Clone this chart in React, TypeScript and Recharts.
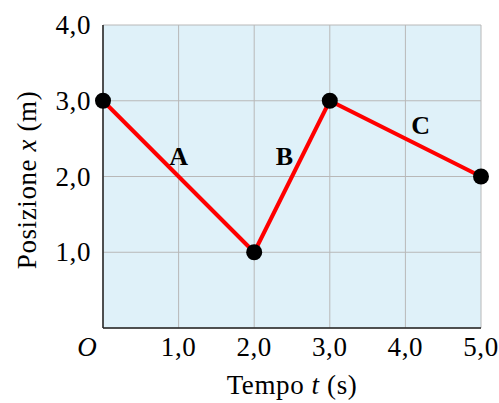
import { LineChart, Line, XAxis, YAxis, CartesianGrid, ReferenceDot, Label } from "recharts";

const times = [0, 2, 3, 5];
const positions = [3, 1, 3, 2];
const xTicks = [0, 1, 2, 3, 4, 5];
const yTicks = [0, 1, 2, 3, 4];
const segmentNames = ["A", "B", "C"];
const segmentLabelT = [1.0, 2.4, 4.2];
const segmentLabelX = [2.28, 2.28, 2.68];

const data = times.map((t, i) => ({ t, x: positions[i] }));
const FONT = "'Liberation Serif', 'DejaVu Serif', serif";
const SIZE = 27;
const SPACING = 0.6;
const fmt = (v: number) => v.toFixed(1).replace(".", ",");

const XTick = (props: any) => {
  const { x, y, payload } = props;
  if (payload.value === 0) {
    return (
      <text x={x - 16} y={y + 28} textAnchor="middle" fontFamily={FONT} fontSize={SIZE} fontStyle="italic" fill="#000">
        O
      </text>
    );
  }
  return (
    <text x={x} y={y + 28} textAnchor="middle" fontFamily={FONT} fontSize={SIZE} letterSpacing={SPACING} fill="#000">
      {fmt(payload.value)}
    </text>
  );
};

const YTick = (props: any) => {
  const { x, y, payload } = props;
  if (payload.value === 0) return <g />;
  return (
    <text x={x - 12} y={y + 9} textAnchor="end" fontFamily={FONT} fontSize={SIZE} letterSpacing={SPACING} fill="#000">
      {fmt(payload.value)}
    </text>
  );
};

export default function App() {
  return (
    <div style={{ position: "absolute", left: 0, top: 0 }}>
      <LineChart width={499} height={403} data={data} margin={{ top: 25, right: 18, bottom: 45, left: 43 }}>
        <CartesianGrid stroke="#b8b8b8" strokeWidth={1} fill="#dff1f9" fillOpacity={1} />
        <XAxis
          dataKey="t"
          type="number"
          domain={[0, 5]}
          ticks={xTicks}
          tick={<XTick />}
          tickLine={false}
          tickSize={0}
          tickMargin={0}
          height={30}
          axisLine={{ stroke: "#222", strokeWidth: 1.5 }}
        >
          <Label
            content={({ viewBox }: any) => (
              <text x={viewBox.x + viewBox.width / 2} y={394} textAnchor="middle" fontFamily={FONT} fontSize={SIZE} letterSpacing={SPACING} fill="#000">
                Tempo <tspan fontStyle="italic">t</tspan> (s)
              </text>
            )}
          />
        </XAxis>
        <YAxis
          type="number"
          domain={[0, 4]}
          ticks={yTicks}
          tick={<YTick />}
          tickLine={false}
          tickSize={0}
          tickMargin={0}
          width={60}
          axisLine={{ stroke: "#222", strokeWidth: 1.5 }}
        >
          <Label
            content={() => (
              <text x={0} y={0} transform="translate(36, 180) rotate(-90)" textAnchor="middle" fontFamily={FONT} fontSize={SIZE} letterSpacing={SPACING} fill="#000">
                Posizione <tspan fontStyle="italic">x</tspan> (m)
              </text>
            )}
          />
        </YAxis>
        <Line
          dataKey="x"
          stroke="#ff0000"
          strokeWidth={4}
          isAnimationActive={false}
          dot={{ r: 8, fill: "#000", stroke: "none" }}
          activeDot={false}
        />
        {segmentNames.map((name, i) => (
          <ReferenceDot
            key={name}
            x={segmentLabelT[i]}
            y={segmentLabelX[i]}
            r={0}
            stroke="none"
            label={{ value: name, position: "center", fontFamily: FONT, fontSize: 26, fontWeight: "bold", fill: "#000" }}
          />
        ))}
      </LineChart>
    </div>
  );
}
